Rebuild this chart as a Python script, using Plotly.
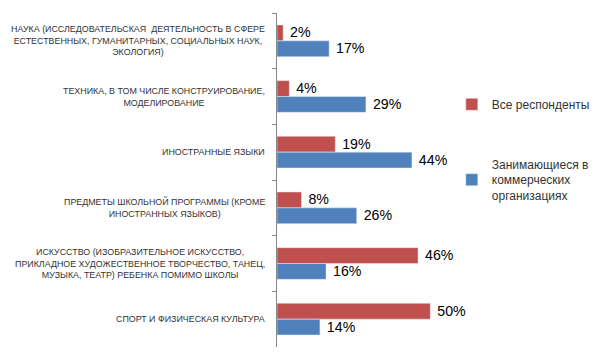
import plotly.graph_objects as go

categories = [
    "НАУКА (ИССЛЕДОВАТЕЛЬСКАЯ  ДЕЯТЕЛЬНОСТЬ В СФЕРЕ<br>ЕСТЕСТВЕННЫХ, ГУМАНИТАРНЫХ, СОЦИАЛЬНЫХ НАУК,<br>ЭКОЛОГИЯ)",
    "ТЕХНИКА, В ТОМ ЧИСЛЕ КОНСТРУИРОВАНИЕ,<br>МОДЕЛИРОВАНИЕ",
    "ИНОСТРАННЫЕ ЯЗЫКИ",
    "ПРЕДМЕТЫ ШКОЛЬНОЙ ПРОГРАММЫ (КРОМЕ<br>ИНОСТРАННЫХ ЯЗЫКОВ)",
    "ИСКУССТВО (ИЗОБРАЗИТЕЛЬНОЕ ИСКУССТВО,<br>ПРИКЛАДНОЕ ХУДОЖЕСТВЕННОЕ ТВОРЧЕСТВО, ТАНЕЦ,<br>МУЗЫКА, ТЕАТР) РЕБЕНКА ПОМИМО ШКОЛЫ",
    "СПОРТ И ФИЗИЧЕСКАЯ КУЛЬТУРА",
]
all_respondents = [2, 4, 19, 8, 46, 50]
commercial = [17, 29, 44, 26, 16, 14]
series_names = ["Все респонденты", "Занимающиеся в<br>коммерческих<br>организациях"]

RED = "#C0504D"
BLUE = "#4F81BD"
LABEL_FONT = dict(family="Liberation Sans", size=17, color="#000000")

fig = go.Figure()
fig.add_trace(go.Bar(
    y=categories, x=all_respondents, orientation="h", name=series_names[0],
    marker_color=RED, legendgroup="a",
    texttemplate="\u00a0%{x}%", textposition="outside", textfont=LABEL_FONT,
    cliponaxis=False,
))
fig.add_trace(go.Bar(
    y=categories, x=commercial, orientation="h", name=series_names[1],
    marker_color=BLUE, legendgroup="b",
    texttemplate="\u00a0%{x}%", textposition="outside", textfont=LABEL_FONT,
    cliponaxis=False,
))

for c in categories:
    fig.add_annotation(
        x=0, xref="paper", y=c, yref="y", text=c, showarrow=False,
        xanchor="right", xshift=-10, align="center",
        font=dict(family="Liberation Sans", size=8.9, color="#333333"),
    )

# page body adds an 8px offset; figure sized/margined to compensate
fig.update_layout(
    width=592, height=352,
    margin=dict(l=269, r=122, t=5, b=13),
    paper_bgcolor="white", plot_bgcolor="white",
    barmode="group", bargap=0.43, bargroupgap=0,
    showlegend=True,
    legend=dict(
        x=0.95, xanchor="left", y=0.77, yanchor="top",
        traceorder="grouped", tracegroupgap=41,
        font=dict(family="Liberation Sans", size=12, color="#333333"),
        bgcolor="rgba(0,0,0,0)",
    ),
    xaxis=dict(range=[0, 60], visible=False, fixedrange=True),
    yaxis=dict(
        autorange="reversed", showticklabels=False,
        showline=True, linecolor="#868686", linewidth=1,
        ticks="outside", ticklen=4, tickcolor="#868686", tickson="boundaries",
        showgrid=False, zeroline=False,
    ),
)

fig.write_html("out.html")
